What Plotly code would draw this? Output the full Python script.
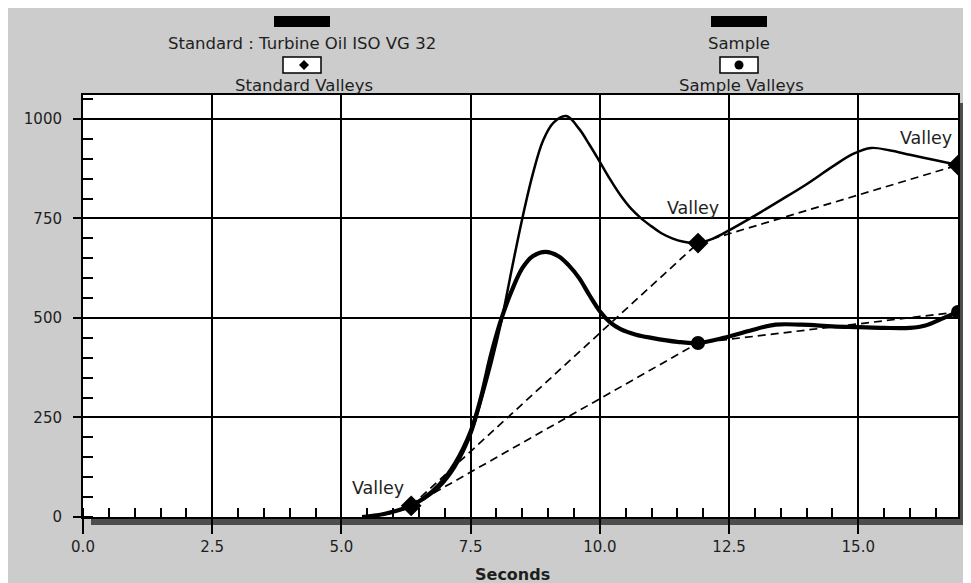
import plotly.graph_objects as go

# ---------------- data ----------------
std_x = [5.4, 5.8, 6.1, 6.35, 6.6, 6.9, 7.2, 7.5, 7.7, 7.9, 8.1, 8.3, 8.5, 8.7, 8.9, 9.1,
         9.35, 9.6, 9.8, 10.0, 10.2, 10.4, 10.6, 10.8, 11.0, 11.2, 11.4, 11.6, 11.9,
         12.2, 12.5, 13.0, 13.5, 14.0, 14.5, 14.9, 15.25, 15.6, 16.0, 16.5, 16.93]
std_y = [0, 6, 16, 28, 45, 75, 125, 205, 290, 385, 495, 625, 750, 860, 945, 990,
         1007, 975, 935, 892, 848, 808, 775, 750, 730, 712, 700, 692, 688,
         700, 720, 757, 796, 836, 880, 912, 927, 921, 910, 896, 884]

smp_x = [5.4, 5.8, 6.1, 6.35, 6.6, 6.9, 7.2, 7.5, 7.7, 7.9, 8.1, 8.3, 8.5, 8.7, 8.95,
         9.2, 9.4, 9.6, 9.8, 10.0, 10.2, 10.4, 10.7, 11.0, 11.5, 11.9, 12.4, 12.9, 13.4,
         13.9, 14.5, 15.0, 15.5, 16.0, 16.3, 16.6, 16.93]
smp_y = [0, 7, 17, 28, 48, 82, 135, 215, 300, 410, 500, 570, 625, 655, 666,
         655, 632, 600, 557, 517, 489, 472, 458, 450, 440, 437, 450, 468, 483,
         483, 479, 477, 475, 475, 481, 497, 515]

std_valley_x = [6.35, 11.9, 16.93]
std_valley_y = [28, 688, 884]
smp_valley_x = [6.35, 11.9, 16.93]
smp_valley_y = [28, 437, 515]

x_ticks = [0.0, 2.5, 5.0, 7.5, 10.0, 12.5, 15.0]
y_ticks = [0, 250, 500, 750, 1000]
x_range = [0, 16.93]
y_range = [0, 1060]

series_names = ["Standard : Turbine Oil ISO VG 32", "Sample"]
valley_names = ["Standard Valleys", "Sample Valleys"]
axis_title = "Seconds"

# ---------------- layout helpers (screen pixel -> paper) ----------------
W, H = 963, 575          # page body margin of 8px puts the figure at (8, 8)
L, R, T, B = 83, 958, 95, 517   # plot area on screen


def px(x):
    return (x - L) / (R - L)


def py(y):
    return (B - y) / (B - T)


FONT = "DejaVu Sans"
TXT = "#1e1e1e"

fig = go.Figure()

# dashed valley connectors
for vx, vy in ((std_valley_x, std_valley_y), (smp_valley_x, smp_valley_y)):
    fig.add_trace(go.Scatter(x=vx, y=vy, mode="lines",
                             line=dict(color="black", width=1.7, dash="8px,5px"),
                             hoverinfo="skip", showlegend=False))

# curves
fig.add_trace(go.Scatter(x=std_x, y=std_y, mode="lines", name=series_names[0],
                         line=dict(color="black", width=2.5, shape="spline", smoothing=1.0),
                         showlegend=False))
fig.add_trace(go.Scatter(x=smp_x, y=smp_y, mode="lines", name=series_names[1],
                         line=dict(color="black", width=4.2, shape="spline", smoothing=1.0),
                         showlegend=False))

# valley markers
fig.add_trace(go.Scatter(x=smp_valley_x, y=smp_valley_y, mode="markers", name=valley_names[1],
                         marker=dict(symbol="circle", size=14, color="black"),
                         showlegend=False))
fig.add_trace(go.Scatter(x=std_valley_x, y=std_valley_y, mode="markers", name=valley_names[0],
                         marker=dict(symbol="diamond", size=16, color="black"),
                         showlegend=False))

shapes = []
# drop shadow of the plot area
shapes.append(dict(type="rect", xref="paper", yref="paper", layer="below",
                   x0=px(R), x1=px(967), y0=py(525), y1=py(103),
                   fillcolor="#4d4d4d", line=dict(width=0)))
shapes.append(dict(type="rect", xref="paper", yref="paper", layer="below",
                   x0=px(91), x1=px(967), y0=py(525), y1=py(B),
                   fillcolor="#4d4d4d", line=dict(width=0)))

# custom legend
legend_centres = [302, 739]
for cx in legend_centres:
    shapes.append(dict(type="rect", xref="paper", yref="paper",
                       x0=px(cx - 28), x1=px(cx + 28), y0=py(27), y1=py(16),
                       fillcolor="black", line=dict(width=0)))
    shapes.append(dict(type="rect", xref="paper", yref="paper",
                       x0=px(cx - 19), x1=px(cx + 19), y0=py(73), y1=py(57),
                       fillcolor="white", line=dict(color="black", width=1.5)))
# diamond symbol
dcx, dcy = 304, 65
shapes.append(dict(type="path", xref="paper", yref="paper",
                   path=(f"M {px(dcx - 5)} {py(dcy)} L {px(dcx)} {py(dcy - 5)} "
                         f"L {px(dcx + 5)} {py(dcy)} L {px(dcx)} {py(dcy + 5)} Z"),
                   fillcolor="black", line=dict(width=0)))
# circle symbol
ccx, ccy = 739, 65
shapes.append(dict(type="circle", xref="paper", yref="paper",
                   x0=px(ccx - 4.5), x1=px(ccx + 4.5), y0=py(ccy + 4.5), y1=py(ccy - 4.5),
                   fillcolor="black", line=dict(width=0)))

annotations = []
for cx, nm, vn in zip(legend_centres, series_names, valley_names):
    annotations.append(dict(xref="paper", yref="paper", x=px(cx), y=py(43),
                            text=nm, showarrow=False, xanchor="center", yanchor="middle",
                            font=dict(family=FONT, size=16.5, color=TXT)))
    annotations.append(dict(xref="paper", yref="paper", x=px(cx + 2), y=py(86),
                            text=vn, showarrow=False, xanchor="center", yanchor="middle",
                            font=dict(family=FONT, size=16.5, color=TXT)))

# "Valley" labels next to the standard valleys
valley_offsets = [(-33, 18), (-5, 35), (-32, 27)]
for vx, vy, (dx, dy) in zip(std_valley_x, std_valley_y, valley_offsets):
    annotations.append(dict(x=vx, y=vy, xref="x", yref="y", text="Valley",
                            showarrow=False, xshift=dx, yshift=dy,
                            xanchor="center", yanchor="middle",
                            font=dict(family=FONT, size=17.5, color=TXT)))

# x-axis title
annotations.append(dict(xref="paper", yref="paper", x=px(512), y=py(574),
                        text=f"<b>{axis_title}</b>", showarrow=False,
                        xanchor="center", yanchor="middle",
                        font=dict(family=FONT, size=16, color=TXT)))

fig.update_layout(
    width=W, height=H, autosize=False,
    margin=dict(l=L - 8, r=W + 8 - R, t=T - 8, b=H + 8 - B, pad=0),
    paper_bgcolor="#cccccc", plot_bgcolor="white",
    shapes=shapes, annotations=annotations,
    showlegend=False,
    font=dict(family=FONT, color=TXT),
)

fig.update_xaxes(
    range=x_range, tickmode="array", tickvals=x_ticks,
    ticktext=[f"{v:.1f}" for v in x_ticks],
    showgrid=True, gridcolor="black", gridwidth=1.5,
    ticks="outside", ticklen=15, tickwidth=1.5, tickcolor="black",
    showline=True, linecolor="black", linewidth=2, mirror=True,
    zeroline=False,
    minor=dict(dtick=0.5, tick0=0, ticks="inside", ticklen=9, tickwidth=1.5,
               tickcolor="black", showgrid=False),
    tickfont=dict(family=FONT, size=15, color=TXT),
    ticklabelstandoff=0,
)
fig.update_yaxes(
    range=y_range, tickmode="array", tickvals=y_ticks,
    ticktext=[str(v) for v in y_ticks],
    showgrid=True, gridcolor="black", gridwidth=1.5,
    ticks="outside", ticklen=8, tickwidth=1.5, tickcolor="black",
    showline=True, linecolor="black", linewidth=2, mirror=True,
    zeroline=False,
    minor=dict(dtick=50, tick0=0, ticks="inside", ticklen=10, tickwidth=1.5,
               tickcolor="black", showgrid=False),
    tickfont=dict(family=FONT, size=15, color=TXT),
    ticklabelstandoff=8,
)

fig.write_html("out.html")
